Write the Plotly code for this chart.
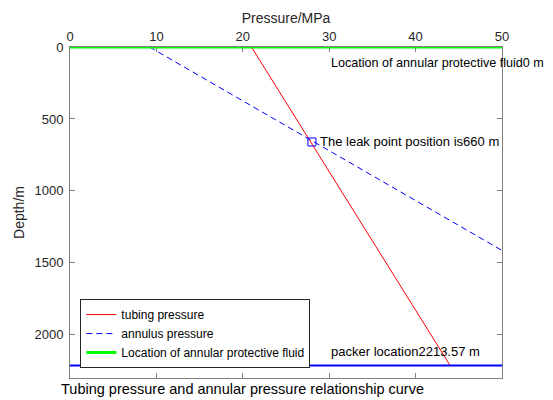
import plotly.graph_objects as go

# Data
depth_ends = [0, 2213.57]
tubing_pressure = [21.0, 44.0]
annulus_pressure = [9.2, 73.1]
fluid_depth = [0, 0]
fluid_x = [0, 50]
packer_depth_val = 2213.57
packer_depth = [2213.57, 2213.57]
packer_x = [0, 50]
leak_depth = [660]
leak_pressure = [28.0]
x_ticks = [0, 10, 20, 30, 40, 50]
y_ticks = [0, 500, 1000, 1500, 2000]

FONT = "Liberation Sans, Arial, sans-serif"
AX = "#262626"

fig = go.Figure()
fig.add_trace(go.Scatter(x=tubing_pressure, y=depth_ends, mode="lines",
                         line=dict(color="#ff0000", width=1), name="tubing pressure"))
fig.add_trace(go.Scatter(x=annulus_pressure, y=depth_ends, mode="lines",
                         line=dict(color="#0000ff", width=1, dash="6px,4px"), name="annulus pressure"))
fig.add_trace(go.Scatter(x=fluid_x, y=fluid_depth, mode="lines",
                         line=dict(color="#00ff00", width=3),
                         name="Location of annular protective fluid"))
fig.add_trace(go.Scatter(x=packer_x, y=packer_depth, mode="lines",
                         line=dict(color="#0000ff", width=2), showlegend=False))
fig.add_trace(go.Scatter(x=leak_pressure, y=leak_depth, mode="markers",
                         marker=dict(symbol="square-open", size=8, color="#0000ff",
                                     line=dict(width=1)), showlegend=False))

fig.add_annotation(x=30, y=110, xref="x", yref="y", text="Location of annular protective fluid0 m",
                   showarrow=False, xanchor="left", yanchor="middle",
                   font=dict(size=12.6, color="black", family=FONT))
fig.add_annotation(x=28.75, y=leak_depth[0], xref="x", yref="y",
                   text="The leak point position is%d m" % leak_depth[0],
                   showarrow=False, xanchor="left", yanchor="middle",
                   font=dict(size=13, color="black", family=FONT))
fig.add_annotation(x=30, y=packer_depth_val - 100, xref="x", yref="y",
                   text="packer location%.2f m" % packer_depth_val,
                   showarrow=False, xanchor="left", yanchor="middle",
                   font=dict(size=13, color="black", family=FONT))
fig.add_annotation(x=-0.025, y=-0.033, xref="paper", yref="paper",
                   text="Tubing pressure and annular pressure relationship curve",
                   showarrow=False, xanchor="left", yanchor="middle",
                   font=dict(size=14.5, color="black", family=FONT))

# the page body adds an 8px margin, so the figure is sized to fit the window
fig.update_layout(
    width=545, height=392, autosize=False,
    margin=dict(l=62, r=51, t=39, b=22),
    paper_bgcolor="white", plot_bgcolor="white",
    font=dict(family=FONT, size=13, color=AX),
    showlegend=True,
    legend=dict(x=0.024, y=0.03, xanchor="left", yanchor="bottom",
                bgcolor="white", bordercolor="#262626", borderwidth=1,
                font=dict(size=12, color="black", family=FONT),
                tracegroupgap=0, itemwidth=30),
)
fig.update_xaxes(range=[0, 50], side="top", tickvals=x_ticks, automargin=False,
                 showgrid=False, zeroline=False, showline=True, linecolor="#808080",
                 linewidth=1, mirror="ticks", ticks="inside", ticklen=5, tickcolor="#808080",
                 layer="below traces",
                 title=dict(text="Pressure/MPa", font=dict(size=14, color=AX), standoff=1),
                 tickfont=dict(size=13, color=AX))
fig.update_yaxes(range=[2300, 0], tickvals=y_ticks, automargin=False,
                 showgrid=False, zeroline=False, showline=True, linecolor="#808080",
                 linewidth=1, mirror="ticks", ticks="inside", ticklen=5, tickcolor="#808080",
                 layer="below traces", ticklabelstandoff=3,
                 title=dict(text="Depth/m", font=dict(size=14, color=AX), standoff=6),
                 tickfont=dict(size=13, color=AX))

fig.write_html("out.html")
